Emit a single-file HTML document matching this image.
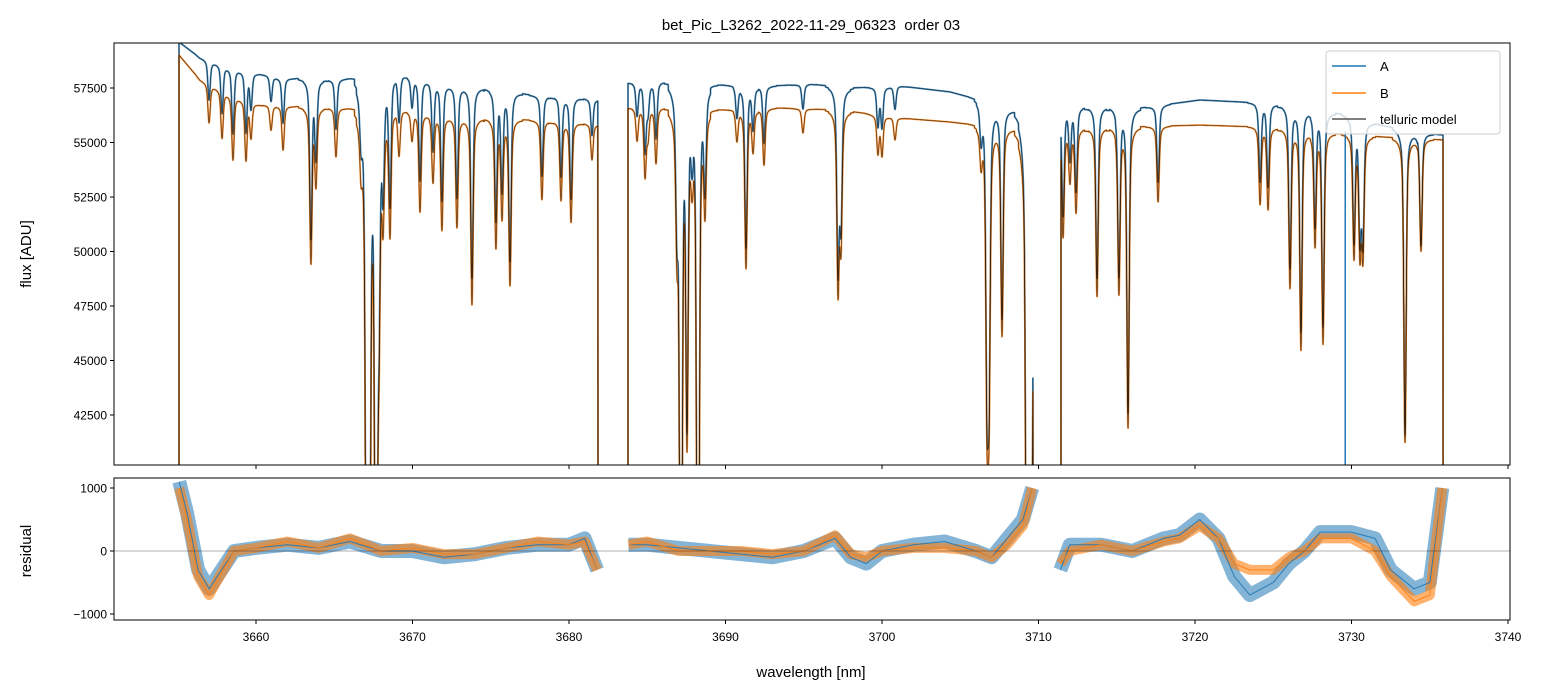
<!DOCTYPE html>
<html><head><meta charset="utf-8"><style>
html,body{margin:0;background:#fff;overflow:hidden;width:1544px;height:696px}
svg{display:block;font-family:"Liberation Sans","DejaVu Sans",sans-serif}
</style></head><body>
<svg id="c" width="1544" height="696">
<defs>
<clipPath id="cpTop"><rect x="114" y="43" width="1396" height="422"/></clipPath>
<clipPath id="cpBot"><rect x="114" y="478" width="1396" height="142"/></clipPath>
</defs>
<rect width="1544" height="696" fill="#fff"/>
<text x="811" y="30" text-anchor="middle" font-size="15" style="white-space:pre">bet_Pic_L3262_2022-11-29_06323  order 03</text>
<g id="topPlot" clip-path="url(#cpTop)"></g>
<g id="botPlot" clip-path="url(#cpBot)"></g>
<g id="axes"></g>
<text x="811" y="677" text-anchor="middle" font-size="15">wavelength [nm]</text>
<text transform="translate(31,254) rotate(-90)" text-anchor="middle" font-size="15">flux [ADU]</text>
<text transform="translate(31,551) rotate(-90)" text-anchor="middle" font-size="15">residual</text>
<g>
<rect x="1326" y="51" width="174" height="83" rx="3" fill="#fff" fill-opacity="0.8" stroke="#ccc"/>
<line x1="1332" y1="66" x2="1366" y2="66" stroke="#1f77b4" stroke-width="1.5"/>
<text x="1380" y="71" font-size="13">A</text>
<line x1="1332" y1="93" x2="1366" y2="93" stroke="#ff7f0e" stroke-width="1.5"/>
<text x="1380" y="98" font-size="13">B</text>
<line x1="1332" y1="119" x2="1366" y2="119" stroke="#555" stroke-width="1.5"/>
<text x="1380" y="124" font-size="13">telluric model</text>
</g>
</svg>
<script>
const segStart = [3655.08, 3683.77, 3711.44];
const segEnd = [3681.85, 3709.65, 3735.85];
const contAwl = [3655.08,3656.42,3658.34,3661.53,3664.73,3669.20,3672.39,3675.59,3677.51,3680.70,3681.85,
 3683.77,3685.81,3689.01,3692.84,3695.40,3697.96,3701.15,3704.35,3706.26,3708.18,3709.65,
 3711.44,3713.93,3716.49,3720.32,3722.88,3724.79,3726.71,3729.27,3731.82,3734.38,3735.85];
const contAflux = [59610,58880,58420,57960,57870,58100,57640,57410,57180,57040,56950,
 57730,57780,57640,57590,57680,57500,57590,57320,56950,56490,56260,
 56630,56630,56580,56950,56860,56770,56580,56310,55800,55440,55340];
const contBwl = [3655.08,3656.42,3658.34,3660.26,3664.73,3669.20,3673.03,3677.51,3680.70,3681.85,
 3683.77,3686.45,3689.65,3693.48,3697.32,3701.15,3704.35,3707.55,3709.65,
 3711.44,3713.93,3720.32,3724.15,3726.71,3729.91,3733.10,3735.85];
const contBflux = [59010,57870,57180,56720,56580,56490,56120,56030,55890,55800,
 56580,56580,56490,56580,56490,56120,55940,55670,55480,
 55570,55670,55800,55710,55570,55340,55210,55120];
const lineWl = [3657.00,3657.83,3658.53,3659.36,3659.68,3660.96,3661.73,3663.51,3663.83,3665.11,3666.71,3667.09,3667.22,3667.67,3667.86,3668.12,3668.56,3669.14,3669.97,3670.48,3671.31,3671.88,3672.84,3673.80,3675.33,3675.72,3676.23,3678.27,3679.49,3680.13,3681.47,
 3684.35,3684.86,3685.05,3685.56,3686.90,3687.15,3687.54,3687.86,3688.24,3688.69,3690.73,3691.31,3691.76,3692.46,3694.95,3697.19,3697.38,3699.74,3700.00,3700.83,3706.33,3706.71,3706.84,3707.67,3709.27,3709.52,
 3711.57,3712.01,3712.40,3713.74,3715.14,3715.72,3717.64,3724.16,3724.67,3726.07,3726.77,3727.67,3728.18,3730.16,3730.54,3730.73,3733.42,3734.44];
const lineMin = [55895,55206,54197,54197,55252,55573,54656,49519,53142,54335,54656,20000,20000,20000,47913,51904,50757,54427,55115,51812,53188,50986,51078,47546,50207,51675,48464,52362,52362,51353,54197,
 55115,53510,55344,54060,51078,20000,41950,54197,20000,52133,55115,49244,54656,53968,55436,48372,50528,54519,54427,55115,54197,43326,43700,46078,20000,20000,
 50665,53280,51800,47913,48143,41950,52270,52200,51950,48372,45482,50300,45803,49800,50100,49950,41216,50000];
const resAwl = [3655.1,3655.6,3656.3,3657,3657.8,3658.6,3660,3662,3664,3666,3668,3670,3672,3674,3676,3678,3680,3681,3681.8,
 3683.8,3685,3687,3689,3691,3693,3695,3697,3698,3699,3700,3702,3704,3706,3707,3708,3709,3709.6,
 3711.4,3712,3714,3716,3718,3719,3720.3,3721.5,3722.5,3723.5,3725,3726,3727,3728,3730,3731.5,3732.5,3734,3735,3735.8];
const resAval = [1100,600,-300,-600,-300,0,50,100,50,150,0,0,-100,-50,50,100,100,200,-300,
 100,100,50,0,-50,-100,0,200,-100,-200,0,100,150,0,-100,200,500,1000,
 -300,100,100,0,200,250,500,200,-400,-700,-500,-200,0,300,300,200,-300,-600,-500,1000];
const resBwl = resAwl;
const resBval = [1000,500,-400,-700,-350,0,50,150,50,200,0,50,-50,-50,50,150,100,150,-300,
 100,150,0,0,0,-50,0,250,-50,-100,0,50,50,0,-100,100,400,1000,
 -200,0,100,0,150,200,400,200,-200,-300,-300,-100,0,200,200,0,-400,-800,-700,1000];
const xTicks = [3660,3670,3680,3690,3700,3710,3720,3730,3740];
const yTicks = [42500,45000,47500,50000,52500,55000,57500];
const rTicks = [1000,0,-1000];

const X = wl => 256 + (wl - 3660) * 15.65;
const Y = f => 415 - (f - 42500) / 2500 * 54.5;
const R = v => 551 - v * 0.063;
const NS = 'http://www.w3.org/2000/svg';
function interp(xs, ys, x) {
  if (x <= xs[0]) return ys[0];
  for (let i = 1; i < xs.length; i++) if (x <= xs[i]) {
    const t = (x - xs[i-1]) / (xs[i] - xs[i-1]); return ys[i-1] + t * (ys[i] - ys[i-1]);
  }
  return ys[ys.length-1];
}
function trans(wl) {
  let m = 1;
  for (let i = 0; i < lineWl.length; i++) {
    const dx = wl - lineWl[i];
    if (Math.abs(dx) > 0.8) continue;
    const cb = interp(contBwl, contBflux, lineWl[i]);
    const d = 1 - lineMin[i] / cb;
    m *= 1 - d * (0.6 * Math.exp(-dx*dx/(2*0.07*0.07)) + 0.4 / (1 + dx*dx/0.012));
  }
  return m;
}
function path(parent, d, stroke, w, op, name) {
  const p = document.createElementNS(NS, 'path');
  p.setAttribute('d', d); p.setAttribute('fill', 'none');
  p.setAttribute('stroke', stroke); p.setAttribute('stroke-width', w);
  p.setAttribute('stroke-opacity', op); p.setAttribute('stroke-linejoin', 'round');
  
  
  parent.appendChild(p);
}
const topG = document.getElementById('topPlot');
const botG = document.getElementById('botPlot');
function spec(cw, cf) {
  let d = '';
  for (let s = 0; s < segStart.length; s++) {
    d += 'M' + X(segStart[s]).toFixed(1) + ',470';
    for (let wl = segStart[s]; wl <= segEnd[s]; wl += 0.012) {
      const f = interp(cw, cf, wl) * trans(wl);
      d += 'L' + X(wl).toFixed(2) + ',' + Math.max(38, Math.min(470, Y(f))).toFixed(1);
    }
    d += 'L' + X(segEnd[s]).toFixed(1) + ',470';
  }
  return d;
}
const dA = spec(contAwl, contAflux), dB = spec(contBwl, contBflux);
path(topG, dA, '#1f77b4', 1.8, 0.8, 'series-a');
path(topG, dB, '#ff7f0e', 1.8, 0.8, 'series-b');
path(topG, dA, '#000', 0.8, 0.6, 'telluric-model-a');
path(topG, dB, '#000', 0.8, 0.6, 'telluric-model-b');
const ms = document.createElementNS(NS,'line');
ms.setAttribute('x1',X(3729.6));ms.setAttribute('x2',X(3729.6));ms.setAttribute('y1',Y(55500));ms.setAttribute('y2',466);
ms.setAttribute('stroke','#1f77b4');ms.setAttribute('stroke-width',1.5);


topG.appendChild(ms);

function resPath(ws, vs) {
  let d = '';
  for (let s = 0; s < segStart.length; s++) {
    let first = true;
    for (let i = 0; i < ws.length; i++) {
      if (ws[i] < segStart[s] - 0.1 || ws[i] > segEnd[s] + 0.1) continue;
      d += (first ? 'M' : 'L') + X(ws[i]).toFixed(1) + ',' + R(vs[i]).toFixed(1); first = false;
    }
  }
  return d;
}
path(botG, resPath(resAwl, resAval), '#1f77b4', 14, 0.55, 'residual-a');
path(botG, resPath(resBwl, resBval), '#ff7f0e', 10, 0.6, 'residual-b');
path(botG, resPath(resAwl, resAval), '#1f77b4', 1, 0.9, 'residual-a-line');
path(botG, resPath(resBwl, resBval), '#ff7f0e', 1, 0.9, 'residual-b-line');
const zl = document.createElementNS(NS,'line');
zl.setAttribute('x1',114);zl.setAttribute('x2',1510);zl.setAttribute('y1',R(0));zl.setAttribute('y2',R(0));
zl.setAttribute('stroke','#000');zl.setAttribute('stroke-width',0.6);zl.setAttribute('stroke-opacity',0.6);


botG.appendChild(zl);

const ax = document.getElementById('axes');
function el(tag, attrs, text) {
  const e = document.createElementNS(NS, tag);
  for (const k in attrs) e.setAttribute(k, attrs[k]);
  if (text !== undefined) e.textContent = text;
  ax.appendChild(e); return e;
}
const f1 = el('rect',{x:114,y:43,width:1396,height:422,fill:'none',stroke:'#000','stroke-width':1});


const f2 = el('rect',{x:114,y:478,width:1396,height:142,fill:'none',stroke:'#000','stroke-width':1});


xTicks.forEach(t => {
  const x = X(t);
  el('line',{x1:x,x2:x,y1:465,y2:469,stroke:'#000'});
  el('line',{x1:x,x2:x,y1:620,y2:624,stroke:'#000'});
  const tx = el('text',{x:x,y:641,'text-anchor':'middle','font-size':12}, String(t));
  
  
});
yTicks.forEach(t => {
  const y = Y(t);
  el('line',{x1:110,x2:114,y1:y,y2:y,stroke:'#000'});
  const tx = el('text',{x:107,y:y+4.5,'text-anchor':'end','font-size':12}, String(t));
  
  
});
rTicks.forEach(t => {
  const y = R(t);
  el('line',{x1:110,x2:114,y1:y,y2:y,stroke:'#000'});
  const tx = el('text',{x:107,y:y+4.5,'text-anchor':'end','font-size':12}, t < 0 ? '\u2212' + (-t) : String(t));
  
  
});
</script>
</body></html>
